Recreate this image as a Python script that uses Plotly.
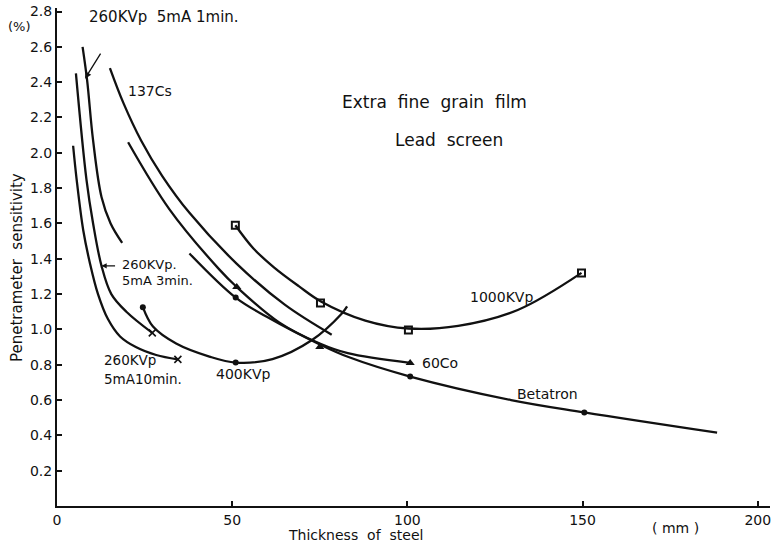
import plotly.graph_objects as go

# ---- data (thickness of steel in mm, penetrameter sensitivity in %) ----
kv1_x = [7.3, 8.6, 10.3, 12.7, 15.3, 18.6]
kv1_y = [2.60, 2.41, 2.07, 1.75, 1.60, 1.49]

kv3_x = [5.4, 8.4, 10.3, 12.7, 15.5, 19.8, 27.2]
kv3_y = [2.45, 1.85, 1.60, 1.36, 1.20, 1.10, 0.98]

kv10_x = [4.6, 5.6, 7.5, 9.4, 11.7, 14.5, 18.0, 22.5, 28.3, 34.5]
kv10_y = [2.04, 1.85, 1.56, 1.375, 1.20, 1.06, 0.96, 0.90, 0.855, 0.83]

cs_x = [15.1, 19.0, 24.0, 30.0, 37.8, 51.4, 65.0, 78.4]
cs_y = [2.48, 2.28, 2.07, 1.87, 1.66, 1.37, 1.14, 0.97]

co_x = [20.3, 32.1, 46.3, 51.3, 63.4, 75.0, 83.0, 100.8]
co_y = [2.06, 1.68, 1.34, 1.24, 1.04, 0.92, 0.865, 0.81]
co_mx = [51.3, 75.0, 100.8]
co_my = [1.24, 0.90, 0.81]

bt_x = [37.8, 51.0, 60.0, 75.0, 83.0, 100.8, 129.6, 150.5, 188.4]
bt_y = [1.43, 1.18, 1.07, 0.915, 0.845, 0.733, 0.60, 0.53, 0.415]
bt_mx = [51.0, 100.8, 150.5]
bt_my = [1.18, 0.733, 0.53]

k4_x = [24.5, 27.4, 34.0, 43.5, 51.0, 61.5, 72.8, 81.3, 82.8]
k4_y = [1.126, 1.016, 0.92, 0.846, 0.812, 0.832, 0.94, 1.09, 1.13]
k4_mx = [24.5, 51.0]
k4_my = [1.126, 0.812]

k1000_x = [50.9, 56.0, 62.0, 69.0, 75.2, 88.0, 100.3, 114.5, 131.5, 149.7]
k1000_y = [1.59, 1.46, 1.35, 1.245, 1.16, 1.05, 1.005, 1.02, 1.11, 1.32]
k1000_mx = [50.9, 75.2, 100.3, 149.7]
k1000_my = [1.59, 1.15, 0.997, 1.32]

end_x = [27.2, 34.5]
end_y = [0.98, 0.83]

x_ticks = [0, 50, 100, 150, 200]
y_ticks = [0.2, 0.4, 0.6, 0.8, 1.0, 1.2, 1.4, 1.6, 1.8, 2.0, 2.2, 2.4, 2.6, 2.8]

FONT = "DejaVu Sans"
BLK = "#111111"

fig = go.Figure()

for xs, ys in [(kv1_x, kv1_y), (kv3_x, kv3_y), (kv10_x, kv10_y), (cs_x, cs_y),
               (co_x, co_y), (bt_x, bt_y), (k4_x, k4_y), (k1000_x, k1000_y)]:
    fig.add_trace(go.Scatter(x=xs, y=ys, mode="lines",
                             line=dict(color=BLK, width=2.3, shape="spline", smoothing=1.0),
                             showlegend=False, hoverinfo="skip"))

fig.add_trace(go.Scatter(x=co_mx, y=co_my, mode="markers",
                         marker=dict(symbol="triangle-up", size=8, color=BLK), showlegend=False))
fig.add_trace(go.Scatter(x=bt_mx + k4_mx, y=bt_my + k4_my, mode="markers",
                         marker=dict(symbol="circle", size=6, color=BLK), showlegend=False))
fig.add_trace(go.Scatter(x=k1000_mx, y=k1000_my, mode="markers",
                         marker=dict(symbol="square-open", size=7, color=BLK,
                                     line=dict(width=2, color=BLK)), showlegend=False))
fig.add_trace(go.Scatter(x=end_x, y=end_y, mode="markers",
                         marker=dict(symbol="x-thin-open", size=7, color=BLK,
                                     line=dict(width=1.6, color=BLK)), showlegend=False))

def txt(x, y, s, anchor="left", size=14):
    fig.add_annotation(x=x, y=y, xref="x", yref="y", text=s, showarrow=False,
                       xanchor=anchor, yanchor="middle",
                       font=dict(family=FONT, size=size, color=BLK))

txt(8.7, 2.77, "260KVp  5mA 1min.", size=15)
txt(19.8, 2.35, "137Cs")
txt(17.9, 1.37, "260KVp.", size=13)
txt(17.9, 1.275, "5mA 3min.", size=13)
txt(12.7, 0.825, "260KVp", size=13.5)
txt(12.7, 0.72, "5mA10min.", size=13.5)
txt(44.9, 0.75, "400KVp")
txt(103.6, 0.81, "60Co")
txt(117.3, 1.186, "1000KVp")
txt(130.7, 0.635, "Betatron")
txt(107.8, 2.29, "Extra  fine  grain  film", anchor="center", size=17)
txt(111.9, 2.07, "Lead  screen", anchor="center", size=17)

# arrows
fig.add_annotation(x=8.0, y=2.42, ax=12.7, ay=2.57, xref="x", yref="y", axref="x", ayref="y",
                   text="", showarrow=True, arrowhead=2, arrowsize=1, arrowwidth=1.3,
                   arrowcolor=BLK)
fig.add_annotation(x=12.7, y=1.36, ax=17.0, ay=1.36, xref="x", yref="y", axref="x", ayref="y",
                   text="", showarrow=True, arrowhead=2, arrowsize=0.8, arrowwidth=1.3,
                   arrowcolor=BLK)

# axis titles and unit labels
fig.add_annotation(x=-0.056, y=0.478, xref="paper", yref="paper", text="Penetrameter  sensitivity",
                   textangle=-90, showarrow=False, xanchor="center", yanchor="middle",
                   font=dict(family=FONT, size=15, color=BLK))
fig.add_annotation(x=0.419, y=-0.058, xref="paper", yref="paper", text="Thickness  of  steel",
                   showarrow=False, xanchor="center", yanchor="middle",
                   font=dict(family=FONT, size=14, color=BLK))
fig.add_annotation(x=0.868, y=-0.044, xref="paper", yref="paper", text="( mm )",
                   showarrow=False, xanchor="center", yanchor="middle",
                   font=dict(family=FONT, size=14, color=BLK))
fig.add_annotation(x=-0.052, y=0.962, xref="paper", yref="paper", text="(%)",
                   showarrow=False, xanchor="center", yanchor="middle",
                   font=dict(family=FONT, size=13, color=BLK))

fig.update_xaxes(range=[0, 203.5], tickvals=x_ticks, ticktext=[str(v) for v in x_ticks],
                 showgrid=False, zeroline=False, showline=True, linecolor=BLK, linewidth=2,
                 ticks="inside", ticklen=5, tickwidth=1.5, tickcolor=BLK,
                 tickfont=dict(family=FONT, size=14, color=BLK))
fig.update_yaxes(range=[0, 2.82], tickvals=y_ticks, ticktext=[f"{v:.1f}" for v in y_ticks],
                 showgrid=False, zeroline=False, showline=True, linecolor=BLK, linewidth=2,
                 ticks="inside", ticklen=5, tickwidth=1.5, tickcolor=BLK,
                 tickfont=dict(family=FONT, size=14, color=BLK))

fig.update_layout(width=772, height=545, plot_bgcolor="white", paper_bgcolor="white",
                  margin=dict(l=57, r=2, t=8, b=39), showlegend=False)

fig.write_html("out.html")
